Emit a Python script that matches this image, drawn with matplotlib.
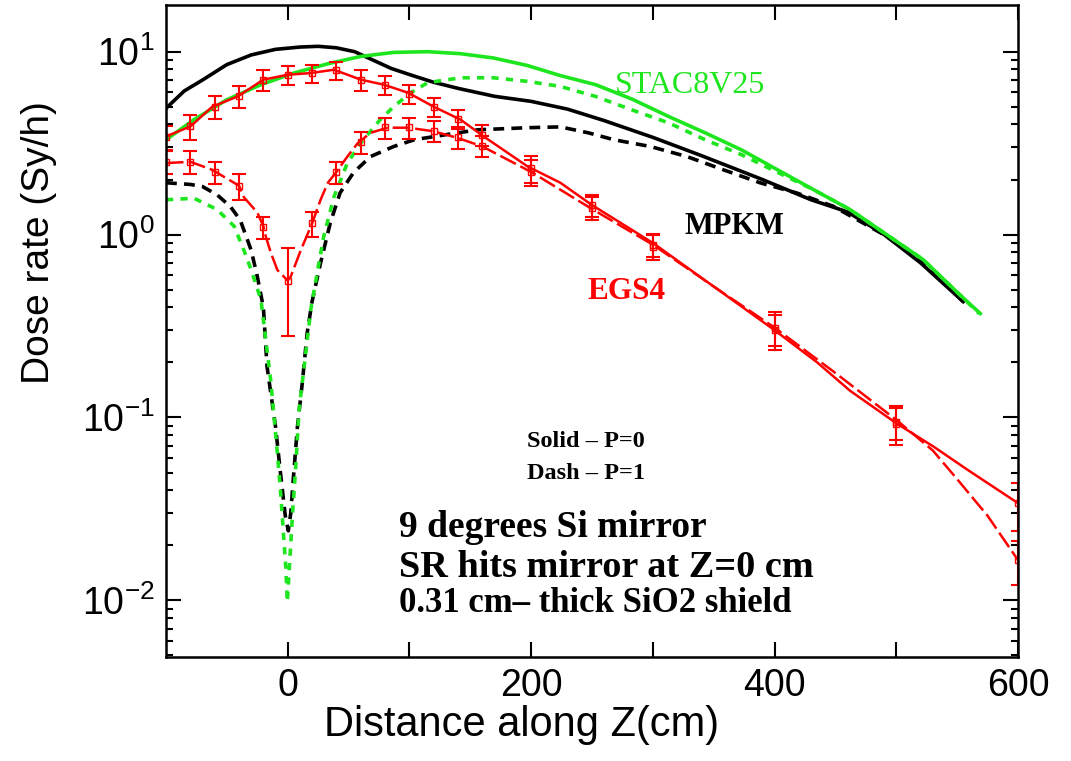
import numpy as np
import matplotlib
matplotlib.use("Agg")
import matplotlib.pyplot as plt

# MPKM, P=0 (solid black)
mpkm0_x = [-100, -85, -70, -50, -30, -10, 10, 25, 40, 55, 70, 85, 100, 120, 140, 170, 200, 230,
           260, 300, 340, 390, 430, 460, 490, 520, 555]
mpkm0_y = [4.9, 6.1, 7.0, 8.5, 9.6, 10.3, 10.6, 10.7, 10.5, 10.0, 9.0, 8.1, 7.5, 6.8, 6.3, 5.7,
           5.35, 4.85, 4.2, 3.4, 2.7, 2.0, 1.55, 1.33, 1.0, 0.70, 0.43]

# MPKM, P=1 (dashed black)
mpkm1_x = [-100, -80, -70, -58, -47, -39, -30, -25, -20, -17, -10, -6, -2, 0.5, 2.5, 5, 8, 12, 16,
           20, 27, 35, 43, 54, 68, 87, 104, 128, 156, 197, 224, 247, 268, 298, 328, 358, 388, 418,
           448, 492, 522, 555]
mpkm1_y = [1.92, 1.88, 1.83, 1.65, 1.42, 1.2, 0.82, 0.59, 0.40, 0.19, 0.089, 0.05, 0.029, 0.024,
           0.030, 0.05, 0.089, 0.155, 0.29, 0.43, 0.70, 1.16, 1.69, 2.18, 2.67, 3.03, 3.3, 3.5,
           3.74, 3.84, 3.88, 3.6, 3.3, 3.03, 2.67, 2.26, 1.92, 1.69, 1.43, 0.98, 0.70, 0.43]

# STAC8V25, P=0 (solid green)
stac0_x = [-100, -77, -50, -22, 5, 33, 60, 87, 115, 142, 169, 197, 224, 253, 283, 313, 343, 373,
           403, 432, 462, 492, 522, 552, 569]
stac0_y = [3.3, 4.25, 5.46, 6.6, 7.64, 8.59, 9.42, 9.91, 10.0, 9.75, 9.24, 8.4, 7.4, 6.6, 5.5,
           4.42, 3.6, 2.9, 2.25, 1.76, 1.37, 1.0, 0.73, 0.47, 0.37]

# STAC8V25, P=1 (dotted green)
stac1_x = [-100, -77, -58, -44, -36, -30, -22, -14, -8.5, -5.8, -1.6, -0.3, 3.8, 6.6, 9.3, 13.5,
           19, 24.6, 29.6, 38, 49, 60, 76, 87, 101, 115, 142, 169, 197, 224, 253, 283, 313, 343,
           373, 403, 432, 462, 492, 522, 552, 568]
stac1_y = [1.55, 1.58, 1.37, 1.11, 0.82, 0.64, 0.44, 0.16, 0.064, 0.0386, 0.0152, 0.0098, 0.0287,
           0.054, 0.11, 0.19, 0.39, 0.64, 0.976, 1.61, 2.46, 3.16, 4.25, 5.0, 5.96, 6.77, 7.2,
           7.2, 6.88, 6.46, 5.69, 4.8, 4.08, 3.3, 2.73, 2.18, 1.76, 1.37, 1.0, 0.73, 0.47, 0.37]

# EGS4 lines
egs0_x = [-100, -80, -62, -41, -20, 0, 19, 38, 60, 79, 99, 120, 142, 161, 197, 224, 250, 300, 350,
          400, 435, 462, 500, 531, 559, 600]
egs0_y = [3.44, 3.9, 5.0, 5.7, 7.03, 7.48, 7.64, 7.97, 7.03, 6.6, 5.96, 5.0, 4.25, 3.44, 2.36,
          1.92, 1.45, 0.9, 0.52, 0.30, 0.20, 0.14, 0.093, 0.069, 0.0515, 0.034]
egs1_x = [-100, -80, -62, -54, -40, -36, -25, -20, -18, -14, -8.5, 0, 2.5, 10.7, 20, 27, 33, 40,
          49, 57.5, 68, 82, 99, 120, 140, 160, 200, 250, 300, 350, 400, 450, 500, 530, 550, 575, 600]
egs1_y = [2.46, 2.5, 2.26, 2.1, 1.85, 1.6, 1.32, 1.11, 0.976, 0.8, 0.64, 0.56, 0.59, 0.82, 1.15,
          1.55, 1.92, 2.2, 2.67, 3.16, 3.6, 3.84, 3.84, 3.67, 3.37, 3.03, 2.2, 1.38, 0.88, 0.52,
          0.31, 0.175, 0.097, 0.066, 0.046, 0.029, 0.0166]

# EGS4 points with error bars
pt_x = [-100, -80, -60, -40, -20, 0, 20, 40, 60, 80, 100, 120, 140, 160, 200, 250, 300, 400, 500, 600]
pt0_y = [3.4, 3.9, 5.0, 5.7, 7.0, 7.5, 7.6, 7.9, 7.0, 6.6, 5.9, 5.0, 4.3, 3.5, 2.3, 1.45, 0.88,
         0.30, 0.092, 0.034]
pt0_err = [0.5, 0.6, 0.7, 0.8, 0.9, 0.9, 0.9, 0.9, 0.9, 0.8, 0.7, 0.6, 0.5, 0.45, 0.38, 0.2, 0.13,
           0.065, 0.021, 0.010]
pt1_y = [2.5, 2.5, 2.2, 1.85, 1.1, 0.56, 1.15, 2.2, 3.2, 3.85, 3.85, 3.7, 3.4, 3.05, 2.2, 1.4,
         0.86, 0.31, 0.095, 0.0166]
pt1_err = [0.35, 0.35, 0.3, 0.3, 0.15, 0.28, 0.18, 0.3, 0.45, 0.5, 0.5, 0.5, 0.45, 0.4, 0.35, 0.2,
           0.13, 0.065, 0.02, 0.0045]

GREEN = "#1ee61e"
RED = "#ff0000"

plt.rcParams["font.family"] = "Liberation Sans"
plt.rcParams["mathtext.fontset"] = "custom"
plt.rcParams["mathtext.rm"] = "Liberation Sans"
plt.rcParams["mathtext.it"] = "Liberation Sans:italic"

fig = plt.figure(figsize=(10.71, 7.61), dpi=100)
ax = fig.add_axes([166 / 1071, 1 - 657 / 761, 852 / 1071, 652 / 761])

ax.plot(mpkm0_x, mpkm0_y, color="black", lw=2.6)
ax.plot(mpkm1_x, mpkm1_y, color="black", lw=2.6, ls=(0, (3, 2)))
ax.plot(stac0_x, stac0_y, color=GREEN, lw=2.6)
ax.plot(stac1_x, stac1_y, color=GREEN, lw=2.6, ls=(0, (2, 2)))
ax.plot(egs0_x, egs0_y, color=RED, lw=1.8)
ax.plot(egs1_x, egs1_y, color=RED, lw=1.8, ls=(0, (7, 2)))
for yy, ee in [(pt0_y, pt0_err), (pt1_y, pt1_err)]:
    ax.errorbar(pt_x, yy, yerr=ee, fmt="s", ms=4, mfc="none", mec=RED, color=RED,
                ecolor=RED, elinewidth=1.5, capsize=5, capthick=1.5)

ax.set_yscale("log")
ax.set_xlim(-100, 600)
ax.set_ylim(4.9e-3, 18)
ax.set_xticks([0, 100, 200, 300, 400, 500, 600])
ax.set_xticklabels(["0", "", "200", "", "400", "", "600"])
ax.tick_params(which="both", direction="in", top=True, right=True, width=1.5)
ax.tick_params(which="major", length=11, labelsize=27, pad=8)
ax.tick_params(which="minor", length=5)
for s in ax.spines.values():
    s.set_linewidth(1.8)

ax.set_xlabel("Distance along Z(cm)", fontsize=30)
ax.xaxis.set_label_coords(0.417, -0.074)
ax.set_ylabel("Dose rate (Sy/h)", fontsize=28)
ax.yaxis.set_label_coords(-0.128, 0.635)

serif = "Liberation Serif"
ax.text(0.527, 0.877, "STAC8V25", color=GREEN, fontsize=23, family=serif,
        transform=ax.transAxes, va="center")
ax.text(0.609, 0.660, "MPKM", color="black", fontsize=22, family=serif, weight="bold",
        transform=ax.transAxes, va="center")
ax.text(0.495, 0.560, "EGS4", color=RED, fontsize=22.5, family=serif, weight="bold",
        transform=ax.transAxes, va="center")
ax.text(0.424, 0.330, "Solid \u2013 P=0", fontsize=17.5, family=serif, weight="bold",
        transform=ax.transAxes, va="center")
ax.text(0.424, 0.281, "Dash \u2013 P=1", fontsize=17.5, family=serif, weight="bold",
        transform=ax.transAxes, va="center")
ax.text(0.274, 0.198, "9 degrees Si mirror", fontsize=27, family=serif, weight="bold",
        transform=ax.transAxes, va="center")
ax.text(0.274, 0.137, "SR hits mirror at Z=0 cm", fontsize=27.5, family=serif, weight="bold",
        transform=ax.transAxes, va="center")
ax.text(0.274, 0.082, "0.31 cm\u2013 thick SiO2 shield", fontsize=25, family=serif, weight="bold",
        transform=ax.transAxes, va="center")

fig.savefig("out.png", dpi=100)
